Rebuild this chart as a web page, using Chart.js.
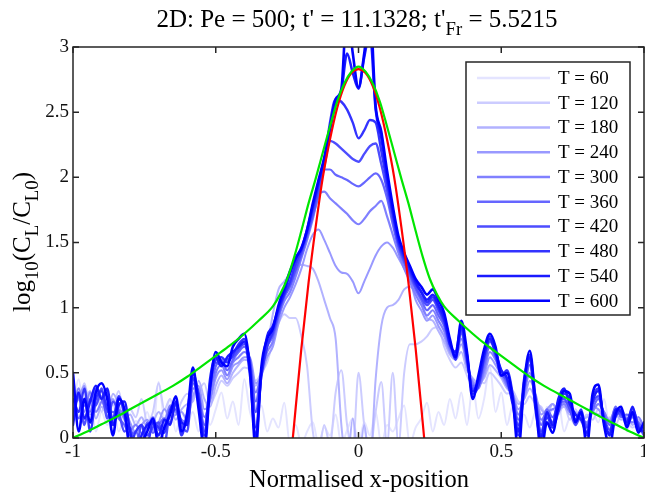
<!DOCTYPE html>
<html><head><meta charset="utf-8">
<script src="https://cdn.jsdelivr.net/npm/chart.js@4.4.1/dist/chart.umd.min.js"></script>
<style>html,body{margin:0;padding:0;background:#fff;overflow:hidden}</style>
</head><body><canvas id="c" width="645" height="495"></canvas>
<script>
// ---------- DATA ----------
const xGrid = [
-1.00,-0.98,-0.96,-0.94,-0.92,-0.90,-0.88,-0.86,-0.84,-0.82,
-0.80,-0.78,-0.76,-0.74,-0.72,-0.70,-0.68,-0.66,-0.64,-0.62,
-0.60,-0.58,-0.56,-0.54,-0.52,-0.50,-0.48,-0.46,-0.44,-0.42,
-0.40,-0.38,-0.36,-0.34,-0.32,-0.30,-0.28,-0.26,-0.24,-0.22,
-0.20,-0.18,-0.16,-0.14,-0.12,-0.10,-0.08,-0.06,-0.04,-0.02,
0.00,0.02,0.04,0.06,0.08,0.10,0.12,0.14,0.16,0.18,
0.20,0.22,0.24,0.26,0.28,0.30,0.32,0.34,0.36,0.38,
0.40,0.42,0.44,0.46,0.48,0.50,0.52,0.54,0.56,0.58,
0.60,0.62,0.64,0.66,0.68,0.70,0.72,0.74,0.76,0.78,
0.80,0.82,0.84,0.86,0.88,0.90,0.92,0.94,0.96,0.98,
1.00];

const seriesLabels = ['T = 60','T = 120','T = 180','T = 240','T = 300','T = 360','T = 420','T = 480','T = 540','T = 600'];

const T60 = [
0.20,0.45,0.15,0.30,0.05,0.20,0.10,0.25,0.05,0.15,
0.02,0.13,0.10,0.20,0.05,0.43,0.15,0.30,0.05,0.20,
0.12,0.20,0.05,0.30,0.10,0.22,0.35,0.15,0.28,0.10,
0.45,0.20,0.10,0.25,0.05,0.15,0.08,0.27,-0.05,0.10,
-0.05,0.05,0.12,-0.05,0.08,0.02,0.18,-0.05,0.06,0.15,
-0.05,0.12,0.02,0.20,-0.05,0.10,0.05,0.15,0.25,-0.05,
0.08,0.15,0.27,0.05,0.20,0.10,0.30,0.15,0.35,0.10,
0.40,0.15,0.30,0.55,0.20,0.35,0.10,0.25,0.05,0.18,
0.08,0.20,0.05,0.24,0.12,0.28,0.05,0.15,0.10,0.22,
0.05,0.20,0.12,0.30,0.08,0.15,0.25,0.05,0.18,0.10,
0.05];
const T120 = [
0.45,0.30,0.42,0.25,0.38,0.20,0.32,0.25,0.36,0.18,
0.22,0.16,0.30,0.12,0.20,0.42,0.22,0.30,0.18,0.28,
0.34,0.30,0.36,0.42,0.26,0.34,0.44,0.40,0.46,0.50,
0.54,0.52,0.44,0.50,0.58,0.74,0.88,0.95,0.92,0.92,
0.78,0.55,0.05,-0.10,0.10,-0.05,0.35,0.52,0.10,-0.10,
0.50,0.10,-0.10,0.20,0.43,-0.05,0.50,-0.05,0.50,0.72,
0.72,0.74,0.78,0.84,0.85,0.70,0.60,0.54,0.58,0.48,
0.40,0.44,0.42,0.50,0.46,0.40,0.34,0.36,0.28,0.26,
0.32,0.26,0.24,0.16,0.22,0.18,0.26,0.14,0.22,0.12,
0.18,0.14,0.22,0.12,0.16,0.10,0.18,0.12,0.08,0.10,
0.04];
const T180 = [
0.35,0.20,0.28,0.36,0.15,0.24,0.18,0.34,0.26,0.14,
0.18,0.10,0.16,0.08,0.12,0.20,0.14,0.24,0.14,0.22,
0.26,0.28,0.44,0.30,0.24,0.40,0.48,0.42,0.50,0.56,
0.60,0.58,0.40,0.52,0.70,0.95,1.14,1.20,1.26,1.31,
1.33,1.32,1.30,1.20,1.06,0.92,0.76,0.10,-0.20,0.15,
-0.20,0.10,-0.20,0.45,0.86,1.00,1.02,1.06,1.14,1.16,
1.12,1.04,0.92,0.90,0.82,0.74,0.64,0.60,0.66,0.52,
0.46,0.42,0.46,0.56,0.52,0.46,0.38,0.34,0.26,0.30,
0.38,0.30,0.22,0.18,0.26,0.22,0.24,0.18,0.20,0.14,
0.16,0.20,0.18,0.20,0.10,0.18,0.14,0.16,0.10,0.14,
0.06];
const T240 = [
0.25,0.30,0.40,0.18,0.25,0.32,0.26,0.30,0.18,0.22,
0.12,0.04,0.10,0.14,0.06,0.12,0.22,0.16,0.18,0.20,
0.14,0.32,0.40,0.22,0.28,0.46,0.52,0.45,0.55,0.58,
0.62,0.62,0.42,0.48,0.62,0.70,0.88,1.00,1.08,1.18,
1.30,1.45,1.56,1.60,1.52,1.42,1.32,1.27,1.26,1.20,
1.11,1.20,1.30,1.40,1.47,1.50,1.46,1.38,1.30,1.22,
1.06,0.98,0.90,0.94,0.86,0.78,0.66,0.62,0.72,0.56,
0.44,0.40,0.48,0.62,0.56,0.48,0.40,0.34,0.22,0.30,
0.44,0.34,0.18,0.22,0.26,0.20,0.28,0.22,0.14,0.18,
0.10,0.24,0.22,0.16,0.14,0.22,0.18,0.10,0.16,0.12,
0.04];
const T300 = [
0.15,0.38,0.20,0.35,0.20,0.28,0.35,0.12,0.22,0.15,
0.06,0.10,0.04,0.08,0.16,0.06,0.10,0.25,0.20,0.14,
0.12,0.38,0.34,0.16,0.30,0.50,0.56,0.48,0.58,0.62,
0.66,0.60,0.35,0.50,0.66,0.74,0.92,1.05,1.12,1.24,
1.38,1.52,1.68,1.86,1.89,1.84,1.80,1.76,1.72,1.67,
1.64,1.68,1.74,1.78,1.82,1.70,1.56,1.42,1.30,1.20,
1.10,1.02,0.94,0.98,0.90,0.82,0.68,0.64,0.76,0.56,
0.42,0.38,0.52,0.66,0.60,0.50,0.40,0.32,0.18,0.34,
0.50,0.32,0.14,0.20,0.22,0.24,0.26,0.20,0.18,0.14,
0.12,0.20,0.26,0.20,0.12,0.18,0.22,0.14,0.12,0.16,
0.08];
const T360 = [
0.40,0.15,0.25,0.20,0.38,0.30,0.20,0.20,0.15,0.10,
0.02,0.05,-0.05,0.12,0.04,0.10,0.15,0.12,0.26,0.08,
0.15,0.42,0.30,0.10,0.36,0.55,0.60,0.52,0.60,0.66,
0.70,0.60,0.28,0.52,0.70,0.78,0.94,1.08,1.16,1.28,
1.40,1.54,1.70,1.86,2.06,2.06,2.02,2.00,1.98,1.95,
1.93,1.96,2.00,2.03,1.98,1.84,1.64,1.46,1.34,1.24,
1.14,1.06,0.98,1.02,0.94,0.86,0.70,0.66,0.80,0.58,
0.40,0.40,0.56,0.70,0.62,0.52,0.42,0.30,0.14,0.36,
0.56,0.30,0.10,0.22,0.16,0.26,0.28,0.24,0.14,0.16,
0.10,0.22,0.30,0.18,0.10,0.24,0.16,0.18,0.16,0.12,
0.06];
const T420 = [
0.20,0.32,0.10,0.30,0.25,0.38,0.15,0.28,0.20,0.05,
0.08,-0.10,0.10,0.02,0.08,0.12,-0.05,0.20,0.22,0.10,
0.05,0.45,0.35,0.05,0.42,0.58,0.56,0.60,0.62,0.68,
0.72,0.58,0.20,0.50,0.72,0.80,0.96,1.10,1.18,1.30,
1.42,1.56,1.72,1.90,2.08,2.28,2.26,2.22,2.18,2.14,
2.12,2.18,2.24,2.26,2.10,1.90,1.68,1.48,1.36,1.26,
1.16,1.08,1.02,1.06,0.98,0.88,0.72,0.64,0.82,0.60,
0.38,0.42,0.60,0.74,0.66,0.50,0.44,0.28,0.10,0.40,
0.60,0.25,0.05,0.18,0.12,0.28,0.30,0.22,0.10,0.18,
0.08,0.26,0.32,0.16,0.06,0.20,0.18,0.14,0.22,0.10,
0.02];
const T480 = [
0.30,0.20,0.38,0.05,0.30,0.36,0.22,0.15,0.32,0.18,
-0.05,0.05,0.10,-0.05,0.12,0.08,0.04,0.22,0.26,0.02,
0.20,0.46,0.26,0.02,0.40,0.60,0.62,0.58,0.64,0.72,
0.76,0.56,0.08,0.48,0.70,0.82,0.98,1.10,1.20,1.34,
1.44,1.58,1.76,1.94,2.12,2.42,2.60,2.58,2.52,2.42,
2.30,2.36,2.44,2.42,2.20,1.96,1.72,1.50,1.38,1.28,
1.18,1.12,1.04,1.08,1.00,0.90,0.74,0.60,0.84,0.64,
0.34,0.40,0.62,0.78,0.64,0.48,0.52,0.34,0.02,0.38,
0.64,0.30,0.02,0.16,0.08,0.20,0.34,0.30,0.14,0.22,
0.02,0.30,0.38,0.12,0.04,0.16,0.22,0.10,0.18,0.06,
0.08];
const T540 = [
0.10,0.35,0.15,0.28,0.40,0.30,0.38,0.10,0.25,0.28,
0.05,-0.15,0.02,0.10,0.12,0.02,0.14,0.10,0.28,0.12,
0.10,0.50,0.30,-0.05,0.45,0.62,0.55,0.62,0.66,0.70,
0.74,0.48,0.00,0.50,0.78,0.86,1.00,1.12,1.26,1.38,
1.45,1.60,1.78,1.96,2.14,2.36,2.56,2.66,2.95,2.80,
2.68,2.92,3.10,2.52,2.30,2.00,1.74,1.52,1.40,1.30,
1.20,1.12,1.06,1.10,1.02,0.92,0.72,0.66,0.86,0.62,
0.36,0.44,0.64,0.76,0.66,0.52,0.46,0.26,0.05,0.45,
0.62,0.22,0.00,0.20,0.10,0.30,0.38,0.26,0.18,0.14,
0.04,0.28,0.36,0.14,0.02,0.22,0.20,0.12,0.24,0.08,
0.05];
const T600 = [
0.50,0.05,0.30,0.12,0.35,0.42,0.30,0.02,0.30,0.22,
-0.10,-0.20,-0.05,0.05,0.15,-0.05,0.08,0.18,0.32,0.05,
0.18,0.54,0.22,-0.08,0.38,0.66,0.58,0.55,0.70,0.76,
0.80,0.52,-0.08,0.55,0.76,0.84,1.02,1.15,1.28,1.38,
1.46,1.60,1.80,1.98,2.15,2.38,2.60,2.68,3.30,2.95,
2.69,2.95,3.30,2.55,2.35,2.05,1.78,1.55,1.42,1.32,
1.22,1.16,1.10,1.14,1.06,0.96,0.76,0.62,0.90,0.66,
0.30,0.48,0.68,0.80,0.70,0.48,0.50,0.30,-0.10,0.42,
0.67,0.28,-0.10,0.12,0.04,0.24,0.36,0.34,0.12,0.20,
-0.06,0.34,0.41,0.10,-0.06,0.18,0.24,0.08,0.20,0.04,
0.12];
const seriesValues = [T60,T120,T180,T240,T300,T360,T420,T480,T540,T600];

const greenX = [-1,-0.95,-0.9,-0.85,-0.8,-0.75,-0.7,-0.65,-0.6,-0.55,-0.5,-0.45,-0.4,-0.35,-0.3,-0.275,-0.25,-0.225,-0.2,-0.175,-0.15,-0.125,-0.1,-0.075,-0.05,-0.025,0,
0.025,0.05,0.075,0.1,0.125,0.15,0.175,0.2,0.225,0.25,0.275,0.3,0.35,0.4,0.45,0.5,0.55,0.6,0.65,0.7,0.75,0.8,0.85,0.9,0.95,1];
const greenY = [0,0.05,0.105,0.16,0.22,0.28,0.34,0.40,0.47,0.55,0.63,0.71,0.80,0.90,1.01,1.10,1.22,1.39,1.59,1.80,1.99,2.19,2.39,2.58,2.72,2.81,2.85,
2.81,2.72,2.58,2.39,2.19,1.99,1.80,1.59,1.39,1.22,1.10,1.01,0.90,0.80,0.71,0.63,0.55,0.47,0.40,0.34,0.28,0.22,0.16,0.105,0.05,0];

const redX = [-0.23,-0.2,-0.175,-0.15,-0.125,-0.1,-0.075,-0.05,-0.025,0,0.025,0.05,0.075,0.1,0.125,0.15,0.175,0.2,0.23];
const redY = [0,0.69,1.19,1.62,2.0,2.29,2.53,2.70,2.80,2.83,2.80,2.70,2.53,2.29,2.0,1.62,1.19,0.69,0];

const xTicks = [-1,-0.5,0,0.5,1];
const yTicks = [0,0.5,1,1.5,2,2.5,3];

// ---------- STYLE ----------
const seriesColors = ['rgb(228,228,255)','rgb(204,204,255)','rgb(178,178,255)','rgb(153,153,255)','rgb(128,128,255)',
  'rgb(102,102,255)','rgb(77,77,255)','rgb(51,51,255)','rgb(26,26,255)','rgb(0,0,255)'];
const seriesWidths = [2,2,2,2,2.2,2.2,2.4,2.4,2.5,2.6];
const SERIF = '"Liberation Serif","Times New Roman",serif';
const AX = '#262626';

const datasets = [];
seriesValues.forEach((vals, i) => {
  datasets.push({
    label: seriesLabels[i],
    data: xGrid.map((x, k) => ({x, y: vals[k]})),
    borderColor: seriesColors[i], borderWidth: seriesWidths[i], pointRadius: 0,
    cubicInterpolationMode: 'monotone', fill: false, order: 11 - i,
    clip: {left:0, top:0, right:0, bottom:0}
  });
});
datasets.push({label:'red', data: redX.map((x,k)=>({x, y: redY[k]})), borderColor:'rgb(255,0,0)', borderWidth:2.2,
  pointRadius:0, cubicInterpolationMode:'monotone', order:1, clip:{left:0,top:0,right:0,bottom:0}});
datasets.push({label:'green', data: greenX.map((x,k)=>({x, y: greenY[k]})), borderColor:'rgb(0,230,0)', borderWidth:2.2,
  pointRadius:0, cubicInterpolationMode:'monotone', order:0, clip:{left:0,top:0,right:0,bottom:0}});

function richWidth(ctx, parts, size) {
  let w = 0;
  parts.forEach(p => { ctx.font = (p.sub ? size*0.75 : size) + 'px ' + SERIF; w += ctx.measureText(p.t).width; });
  return w;
}
function drawRich(ctx, parts, x, y, size) {
  let cx = x;
  parts.forEach(p => {
    const s = p.sub ? size*0.75 : size;
    ctx.font = s + 'px ' + SERIF;
    ctx.fillText(p.t, cx, p.sub ? y + size*0.3 : y);
    cx += ctx.measureText(p.t).width;
  });
}

const decor = {
  id: 'decor',
  afterDatasetsDraw(chart) {
    const ctx = chart.ctx, a = chart.chartArea;
    const xs = chart.scales.x, ys = chart.scales.y;
    ctx.save();
    ctx.strokeStyle = AX; ctx.lineWidth = 1.5;
    ctx.strokeRect(a.left, a.top, a.right - a.left, a.bottom - a.top);
    ctx.beginPath();
    xTicks.forEach(v => { const px = xs.getPixelForValue(v);
      ctx.moveTo(px, a.bottom); ctx.lineTo(px, a.bottom - 6);
      ctx.moveTo(px, a.top); ctx.lineTo(px, a.top + 6); });
    yTicks.forEach(v => { const py = ys.getPixelForValue(v);
      ctx.moveTo(a.left, py); ctx.lineTo(a.left + 6, py);
      ctx.moveTo(a.right, py); ctx.lineTo(a.right - 6, py); });
    ctx.stroke();

    // legend
    const lx = 466, ly = 62, lw = 164, lh = 253;
    ctx.fillStyle = '#fff'; ctx.fillRect(lx, ly, lw, lh);
    ctx.strokeStyle = AX; ctx.lineWidth = 1.5; ctx.strokeRect(lx, ly, lw, lh);
    ctx.textBaseline = 'middle'; ctx.textAlign = 'left';
    ctx.font = '19px ' + SERIF;
    chart.data.datasets.slice(0, seriesLabels.length).forEach((ds, i) => {
      const yy = 78 + i * 24.75;
      ctx.strokeStyle = ds.borderColor; ctx.lineWidth = 2.4;
      ctx.beginPath(); ctx.moveTo(477, yy); ctx.lineTo(550, yy); ctx.stroke();
      ctx.fillStyle = '#000'; ctx.fillText(ds.label, 558, yy + 1);
    });

    // title
    ctx.fillStyle = '#000'; ctx.textBaseline = 'alphabetic';
    const tParts = [{t:"2D: Pe = 500; t' = 11.1328; t'"},{t:'Fr',sub:true},{t:' = 5.5215'}];
    const tw = richWidth(ctx, tParts, 25);
    drawRich(ctx, tParts, 357 - tw/2, 27, 25);

    // x label
    ctx.font = '24.5px ' + SERIF; ctx.textAlign = 'center';
    ctx.fillText('Normalised x-position', 359, 487);
    ctx.textAlign = 'left';

    // y label
    const yParts = [{t:'log'},{t:'10',sub:true},{t:'(C'},{t:'L',sub:true},{t:'/C'},{t:'L0',sub:true},{t:')'}];
    ctx.translate(30, 242); ctx.rotate(-Math.PI/2);
    const yw = richWidth(ctx, yParts, 25);
    drawRich(ctx, yParts, -yw/2, 0, 25);
    ctx.restore();
  }
};

const fmt = v => String(Math.round(v * 100) / 100);

new Chart(document.getElementById('c'), {
  type: 'line',
  data: { datasets },
  options: {
    responsive: false, animation: false, devicePixelRatio: 1,
    layout: { padding: { top: 47, right: 1, left: 0, bottom: 0 } },
    plugins: { legend: { display: false }, tooltip: { enabled: false }, title: { display: false } },
    elements: { line: { borderJoinStyle: 'round', borderCapStyle: 'round' } },
    scales: {
      x: { type: 'linear', min: -1, max: 1,
        ticks: { stepSize: 0.5, font: { family: SERIF, size: 19 }, color: '#111', maxRotation: 0, autoSkip: false, padding: 3, callback: fmt },
        grid: { display: false, drawTicks: false }, border: { display: false },
        afterFit(s) { s.height = 57; s.paddingLeft = 0; s.paddingRight = 0; } },
      y: { type: 'linear', min: 0, max: 3,
        ticks: { stepSize: 0.5, font: { family: SERIF, size: 19 }, color: '#111', padding: 4, callback: fmt },
        grid: { display: false, drawTicks: false }, border: { display: false },
        afterFit(s) { s.width = 73; s.paddingTop = 0; s.paddingBottom = 0; } }
    }
  },
  plugins: [decor]
});
</script></body></html>
